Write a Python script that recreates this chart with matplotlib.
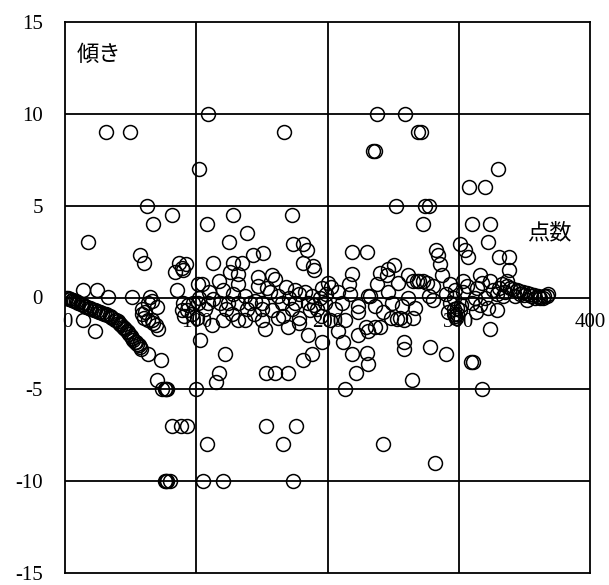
import numpy as np
from matplotlib import pyplot as plt

# Slope per point number

# descending run at the start
curve_x = [1, 2, 3, 4, 5, 6, 7, 8, 9, 10, 12, 13, 14, 15, 16, 18, 19, 20, 22, 23, 24, 26, 27, 28,
           30, 31, 32, 34, 35, 36, 38, 39, 40, 41, 42, 43, 44, 45, 46, 47, 48, 49, 50, 51, 52, 53,
           54, 55, 56, 57]
curve_y = [-0.02, -0.05, -0.08, -0.1, -0.12, -0.15, -0.18, -0.2, -0.25, -0.28, -0.35, -0.38, -0.42,
           -0.45, -0.5, -0.55, -0.58, -0.62, -0.68, -0.7, -0.72, -0.78, -0.8, -0.82, -0.88, -0.9,
           -0.95, -1.0, -1.05, -1.1, -1.2, -1.25, -1.3, -1.38, -1.45, -1.5, -1.58, -1.65, -1.72,
           -1.8, -1.9, -2.0, -2.1, -2.2, -2.3, -2.4, -2.45, -2.55, -2.6, -2.7]

# points 0-100 around the run
left_x = [14, 24, 33, 51, 65, 66, 70, 14, 23, 59, 60, 66, 69, 71, 85, 59, 63, 61, 63, 67, 90, 94,
          97.5, 93, 97, 100.5, 89, 91, 101, 102, 58, 63, 73, 70, 17.5, 57, 60, 84, 87, 89, 92, 90,
          62.5, 67, 81.5, 31, 49.5, 74, 76, 77, 78, 100, 81.5, 88, 93, 76, 77, 78, 80, 108, 105,
          120, 103]
left_y = [0.4, 0.4, 0.05, 0.05, 0.05, -0.2, -0.5, -1.2, -1.8, -0.9, -1.1, -1.2, -1.5, -1.7, 0.4,
          -0.6, -0.3, -0.8, -1.2, -1.4, -0.3, -0.4, -0.3, -0.7, -0.9, -1.1, -0.7, -1.0, 0.75, 0.0,
          -2.8, -3.1, -3.4, -4.5, 3, 2.3, 1.9, 1.4, 1.9, 1.6, 1.8, 1.5, 5, 4, 4.5, 9, 9, -5, -5,
          -5, -5, -5, -7, -7, -7, -10, -10, -10, -10, -8, -10, -10, -2.3]

# points 100-200
mid_x = [109, 167, 102, 108, 128, 173, 139, 125, 113, 151, 143, 174, 181, 184, 128, 135, 181, 189,
         190, 126, 132, 147, 158, 160, 104, 117, 132, 147, 154, 168, 175, 183, 196, 110, 120, 128,
         137, 162, 171, 188, 194, 101, 109, 118, 124, 132, 141, 150, 165, 175, 185, 198, 107, 123,
         139, 150, 173, 192, 120, 132, 137, 150, 162, 166, 178, 187, 152, 178, 185, 196, 122, 117,
         115, 153, 160, 170, 181, 188, 153, 176, 166, 174, 113, 145, 156, 178, 190, 127, 144, 158,
         112, 170, 199, 195]
mid_y = [10, 9, 7, 4, 4.5, 4.5, 3.5, 3, 1.9, 2.4, 2.3, 2.9, 2.9, 2.6, 1.9, 1.9, 1.9, 1.7, 1.5, 1.4,
         1.3, 1.1, 1.2, 1.0, 0.75, 0.9, 0.75, 0.65, 0.5, 0.55, 0.4, 0.3, 0.5, 0.3, 0.4, 0.2, 0.1,
         0.1, 0.0, 0.1, 0.0, -0.3, -0.3, -0.3, -0.3, -0.3, -0.3, -0.3, -0.3, -0.3, -0.3, -0.3,
         -0.6, -0.6, -0.6, -0.6, -0.6, -0.6, -1.2, -1.2, -1.2, -1.2, -1.1, -1.0, -1.1, -0.7, -1.7,
         -1.4, -2.05, -2.4, -3.1, -4.1, -4.6, -4.1, -4.1, -4.1, -3.4, -3.1, -7, -7, -8, -10, -0.1,
         -0.2, 0.3, 0.2, -0.4, -0.9, -0.9, -0.7, -1.5, -1.6, 0.2, -1.0]

# points 200-300
right_x = [238, 259, 269, 271, 235, 236, 252, 274, 277, 273, 219, 230, 283, 284, 286, 287, 219, 240,
           246, 251, 245, 238, 254, 261, 268, 273, 280, 200, 203, 216, 208, 231, 246, 261, 277, 290,
           297, 211, 223, 236, 249, 257, 267, 280, 293, 206, 223, 242, 255, 265, 292, 297, 202, 213,
           229, 236, 248, 253, 258, 208, 223, 231, 240, 258, 258, 278, 290, 212, 219, 230, 231, 222,
           213, 264, 242, 282, 265, 270, 276, 232, 217, 296, 299, 301, 298, 302]
right_y = [10, 10, 9, 9, 8, 8, 5, 5, 5, 4, 2.5, 2.5, 2.6, 2.3, 1.8, 1.2, 1.3, 1.35, 1.55, 1.75, 1.2,
           0.75, 0.8, 1.2, 0.9, 0.9, 0.65, 0.8, 0.55, 0.75, 0.3, 0.1, 0.3, -0.05, 0.1, 0.2, 0.4,
           -0.3, -0.45, -0.45, -0.3, -0.45, -0.55, -0.15, -0.3, -0.6, -0.8, -0.8, -1.1, -1.1, -0.8,
           -1.0, -1.2, -1.2, -1.6, -1.6, -1.1, -1.15, -1.25, -1.8, -2.05, -1.8, -1.6, -2.4, -2.8,
           -2.7, -3.1, -2.4, -3.1, -3.0, -3.6, -4.1, -5, -4.5, -8, -9, 0.9, 0.9, 0.8, 0.1, 0.2,
           -0.6, -0.9, -0.7, -1.1, -0.4]

# points 300 to the end, with the flat run at the end
end_x = [308, 320, 330, 310, 324, 322, 301, 305, 307, 331, 338, 338, 293, 303, 316, 324, 333, 337,
         296, 303, 312, 320, 329, 299, 296, 322, 329, 324, 309, 311, 318, 306, 314, 318, 326, 310,
         316, 331, 334, 313, 335, 337, 339, 341, 343, 344, 346, 347, 349, 350, 352, 352, 354, 355,
         357, 358, 360, 361, 362, 364, 365, 367, 368]
end_y = [6, 6, 7, 4, 4, 3, 2.9, 2.6, 2.2, 2.2, 2.2, 1.5, 0.75, 0.9, 1.2, 0.9, 0.75, 0.9, 0.0, 0.3,
         0.0, 0.0, 0.2, -0.55, -0.9, -0.55, -0.7, -1.7, -3.5, -3.5, -5, 0.6, 0.5, 0.8, 0.4, -0.3,
         -0.4, 0.5, 0.1, -0.8, 0.3, 0.65, 0.5, 0.45, 0.1, 0.4, 0.35, 0.2, 0.3, 0.15, -0.15, 0.25,
         0.2, 0.1, 0.15, 0.0, 0.1, 0.05, -0.05, 0.0, 0.1, 0.1, 0.2]

x_ticks = [0, 100, 200, 300, 400]
y_ticks = [-15, -10, -5, 0, 5, 10, 15]

serif = ['Liberation Serif', 'DejaVu Serif']
cjk = ['Noto Sans CJK JP', 'DejaVu Sans']


def plot_slopes():
    xs = np.concatenate([curve_x, left_x, mid_x, right_x, end_x])
    ys = np.concatenate([curve_y, left_y, mid_y, right_y, end_y])

    fig = plt.figure(figsize=(6.09, 5.85), dpi=100)
    ax = fig.add_axes([65 / 609, 1 - 573 / 585, 525 / 609, 551 / 585])

    ax.set_xlim(0, 400)
    ax.set_ylim(-15, 15)

    # grid in black, the zero line is one of them
    for x in x_ticks[1:-1]:
        ax.axvline(x, color='black', lw=1.3, zorder=1)
    for y in y_ticks[1:-1]:
        ax.axhline(y, color='black', lw=1.3, zorder=1)
    for side in ax.spines.values():
        side.set_linewidth(1.3)

    ax.plot(xs, ys, 'o', ms=10, mfc='none', mec='black', mew=1.1, zorder=3)

    ax.set_yticks(y_ticks)
    ax.set_yticklabels([str(v) for v in y_ticks], fontfamily=serif, fontsize=15)
    ax.tick_params(axis='y', length=0, pad=16)
    ax.set_xticks([])

    # x labels sit under the zero line, not at the bottom
    for x in x_ticks:
        ax.annotate(str(x), (x, 0), xytext=(2 if x == 0 else 0, -18), textcoords='offset points',
                    ha='center', va='center', fontfamily=serif, fontsize=15,
                    annotation_clip=False, zorder=2)

    ax.text(9, 13.25, '傾き', ha='left', va='center', fontfamily=cjk, fontsize=16)
    ax.text(352, 3.5, '点数', ha='left', va='center', fontfamily=cjk, fontsize=16)

    fig.savefig('out.png', dpi=100)


if __name__ == "__main__":
    plot_slopes()
